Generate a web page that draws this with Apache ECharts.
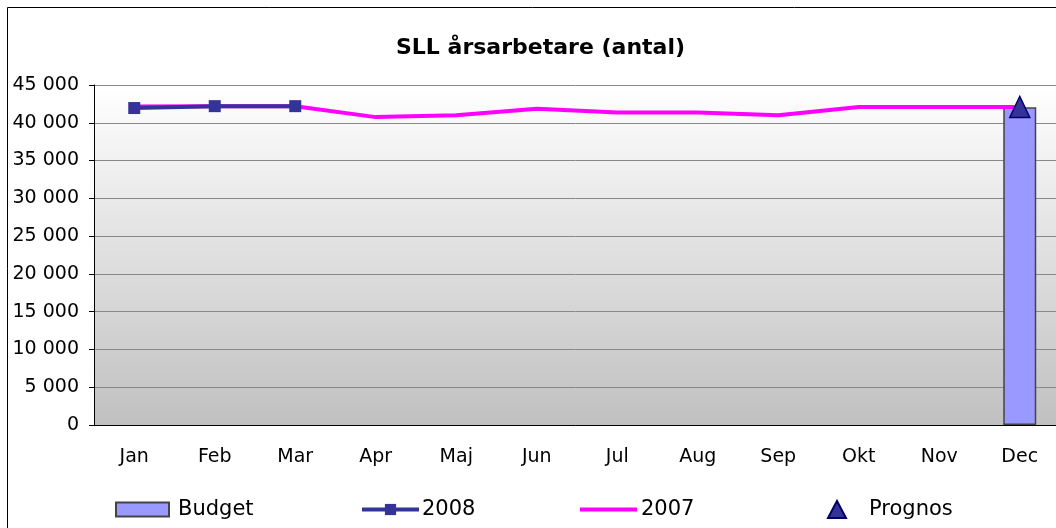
<!DOCTYPE html>
<html>
<head>
<meta charset="utf-8">
<script src="https://cdn.jsdelivr.net/npm/echarts@6/dist/echarts.min.js"></script>
<style>
  html, body { margin: 0; padding: 0; background: #fff; }
  #chart { width: 1056px; height: 528px; }
</style>
</head>
<body>
<div id="chart"></div>
<script>
  var months = ['Jan', 'Feb', 'Mar', 'Apr', 'Maj', 'Jun', 'Jul', 'Aug', 'Sep', 'Okt', 'Nov', 'Dec'];
  var budget = [null, null, null, null, null, null, null, null, null, null, null, 42050];
  var y2008 = [41950, 42200, 42200, null, null, null, null, null, null, null, null, null];
  var y2007 = [42150, 42200, 42200, 40750, 41000, 41850, 41350, 41350, 41000, 42100, 42100, 42100];
  var prognos = [null, null, null, null, null, null, null, null, null, null, null, 42100];

  var font = 'DejaVu Sans, sans-serif';
  var chart = echarts.init(document.getElementById('chart'));

  function legendAt(name, left, icon, w, h, gap) {
    return {
      data: [{ name: name, icon: icon }],
      left: left, top: 494,
      itemWidth: w, itemHeight: h, itemGap: 0,
      lineStyle: { width: 4 },
      textStyle: { fontFamily: font, fontSize: 21, color: '#000', padding: [0, 0, 0, gap] }
    };
  }

  chart.setOption({
    animation: false,
    title: {
      text: 'SLL årsarbetare (antal)',
      left: 391, top: 32,
      textStyle: { fontFamily: font, fontSize: 22, fontWeight: 'bold', color: '#000' }
    },
    graphic: [{
      type: 'rect', shape: { x: 7.5, y: 7.5, width: 1100, height: 600 },
      style: { fill: 'none', stroke: '#000', lineWidth: 1 }, silent: true
    }],
    legend: [
      legendAt('Budget', 110, 'rect', 53, 14, 4),
      legendAt('2008', 355, undefined, 57, 14, -2),
      legendAt('2007', 575, 'rect', 57, 4, -1),
      legendAt('Prognos', 822, 'triangle', 18, 17, 18)
    ],
    grid: {
      left: 94, top: 85, width: 966, bottom: 103,
      outerBoundsMode: 'none', containLabel: false,
      show: true, borderWidth: 0,
      backgroundColor: new echarts.graphic.LinearGradient(0, 0, 0, 1, [
        { offset: 0, color: '#ffffff' },
        { offset: 1, color: '#c0c0c0' }
      ])
    },
    xAxis: {
      type: 'category', data: months, boundaryGap: true,
      axisLine: { lineStyle: { color: '#000', width: 1 } },
      axisTick: { length: 6, lineStyle: { color: '#000' } },
      axisLabel: { fontFamily: font, fontSize: 19, color: '#000', margin: 23 }
    },
    yAxis: {
      type: 'value', min: 0, max: 45000, interval: 5000,
      axisLine: { show: true, lineStyle: { color: '#000', width: 1 } },
      axisTick: { show: true, length: 5, lineStyle: { color: '#000' } },
      splitLine: { lineStyle: { color: '#888', width: 1 } },
      axisLabel: {
        fontFamily: font, fontSize: 19, color: '#000', margin: 15,
        formatter: function (v) { return String(v).replace(/\B(?=(\d{3})+(?!\d))/g, ' '); }
      }
    },
    series: [
      {
        name: 'Budget', type: 'bar', data: budget, barWidth: 33,
        itemStyle: { color: '#9999ff', borderColor: '#444', borderWidth: 1.5 }
      },
      {
        name: '2007', type: 'line', data: y2007, symbol: 'none', z: 3,
        lineStyle: { color: '#ff00ff', width: 4 }, itemStyle: { color: '#ff00ff' }
      },
      {
        name: '2008', type: 'line', data: y2008, symbol: 'rect', symbolSize: 12, z: 4,
        lineStyle: { color: '#333399', width: 4 }, itemStyle: { color: '#333399' }
      },
      {
        name: 'Prognos', type: 'scatter', data: prognos, symbol: 'triangle', symbolSize: [20, 21], z: 5,
        itemStyle: { color: '#333399', borderColor: '#000066', borderWidth: 1.5, opacity: 1 }
      }
    ]
  });
</script>
</body>
</html>
